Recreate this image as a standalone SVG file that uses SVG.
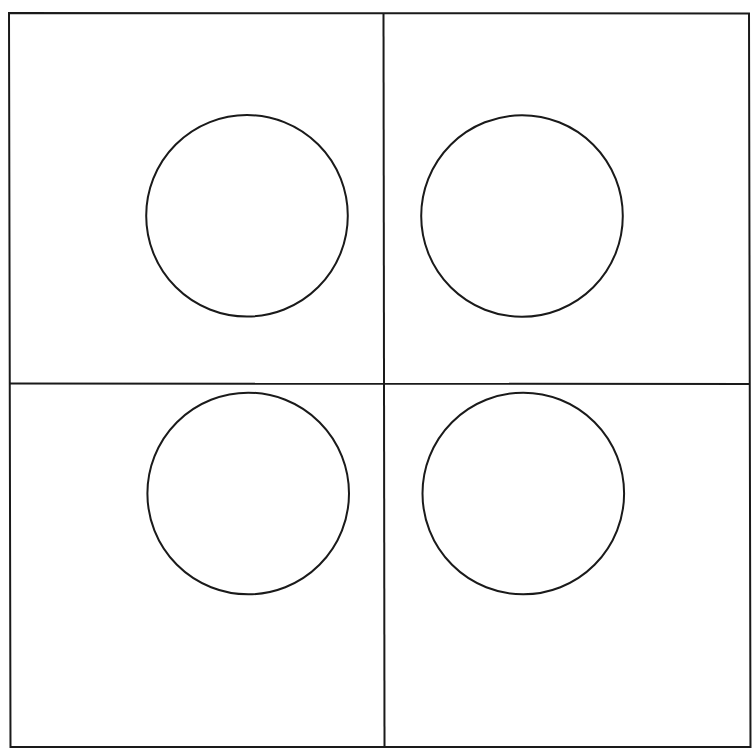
<svg xmlns="http://www.w3.org/2000/svg" width="752" height="748" viewBox="0 0 752 748">
<style>
.ln{fill:none;stroke:#1a1a1a;stroke-width:2}
.c{fill:none;stroke:#1a1a1a;stroke-width:2}
</style>
<rect width="752" height="748" fill="#ffffff"/>
<g id="frame">
<polygon class="ln" points="9,13 749,13.5 750.5,747 10.5,747"/>
<line class="ln" x1="383.5" y1="13" x2="384.5" y2="747"/>
<line class="ln" x1="9.5" y1="383.5" x2="750" y2="384"/>
</g>
<g id="circle-tl"><circle class="c" cx="247" cy="215.8" r="100.8"/></g>
<g id="circle-tr"><circle class="c" cx="522" cy="216" r="100.8"/></g>
<g id="circle-bl"><circle class="c" cx="248.2" cy="493.5" r="100.8"/></g>
<g id="circle-br"><circle class="c" cx="523.3" cy="493.5" r="100.8"/></g>
</svg>
